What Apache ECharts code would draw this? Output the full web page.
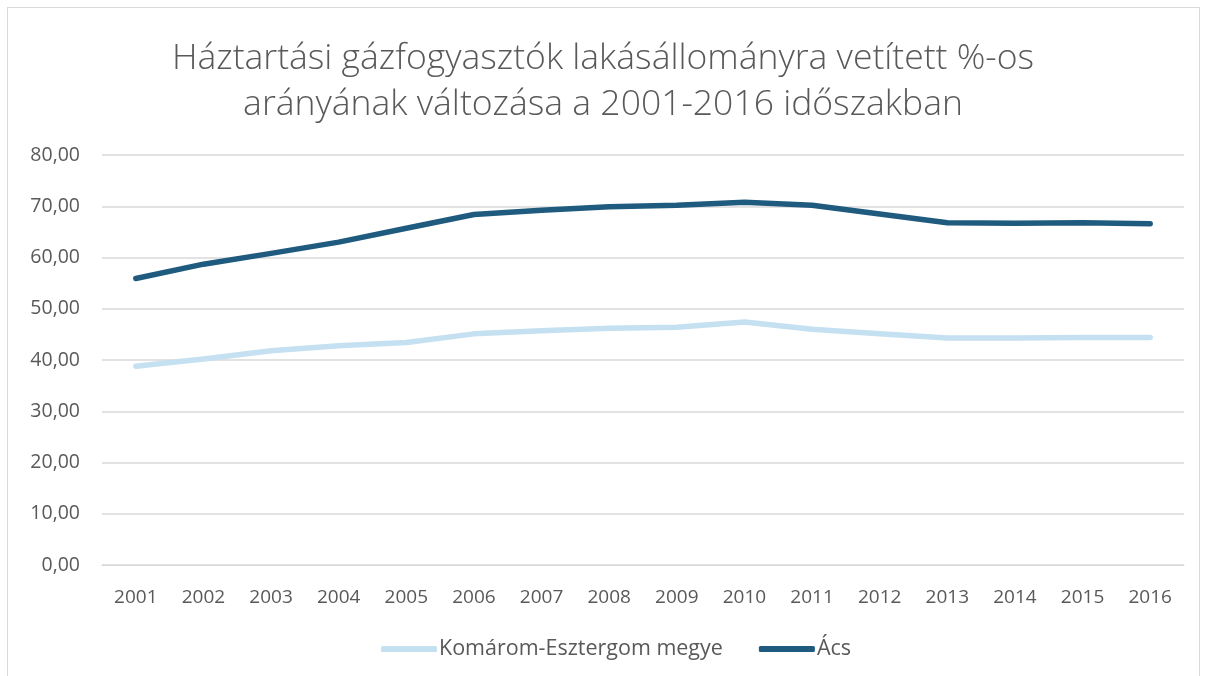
<!DOCTYPE html>
<html>
<head>
<meta charset="utf-8">
<script src="https://cdn.jsdelivr.net/npm/echarts@6/dist/echarts.min.js"></script>
<style>
  html, body { margin: 0; padding: 0; background: #fff; }
  #frame { position: absolute; left: 7px; top: 7px; width: 1193px; height: 680px; border: 1px solid #d9d9d9; box-sizing: border-box; }
  #chart { position: absolute; left: 0; top: 0; width: 1206px; height: 676px; }
</style>
</head>
<body>
<div id="frame"></div>
<div id="chart"></div>
<script>
// Years on the category axis
const years = ['2001','2002','2003','2004','2005','2006','2007','2008','2009','2010','2011','2012','2013','2014','2015','2016'];
// Share of household gas consumers relative to dwelling stock (%)
const komaromEsztergom = [38.8, 40.2, 41.8, 42.8, 43.4, 45.1, 45.7, 46.2, 46.4, 47.4, 46.0, 45.1, 44.3, 44.3, 44.4, 44.4];
const acs = [55.9, 58.7, 60.8, 63.0, 65.7, 68.4, 69.2, 69.9, 70.2, 70.8, 70.2, 68.5, 66.8, 66.7, 66.8, 66.6];
const seriesNames = ['Komárom-Esztergom megye', 'Ács'];
const titleLines = ['Háztartási gázfogyasztók lakásállományra vetített %-os', 'arányának változása a 2001-2016 időszakban'];

const textColor = '#595959';
const font = '"Open Sans", Lato, sans-serif';

const chart = echarts.init(document.getElementById('chart'), null, { renderer: 'canvas' });
chart.setOption({
  backgroundColor: 'transparent',
  animation: false,
  title: {
    text: titleLines.join('\n'),
    left: 'center',
    top: 31,
    textStyle: { color: textColor, fontFamily: font, fontWeight: 300, fontSize: 35.5, lineHeight: 46 }
  },
  legend: {
    bottom: 11,
    left: 376,
    itemWidth: 56,
    itemHeight: 6,
    itemGap: 36,
    icon: 'roundRect',
    textStyle: { color: textColor, fontFamily: font, fontSize: 21.5, padding: [0, 0, 0, -3] },
    data: seriesNames
  },
  grid: { left: 102, right: 22, top: 155, bottom: 111 },
  xAxis: {
    type: 'category',
    data: years,
    boundaryGap: true,
    axisLine: { lineStyle: { color: '#d9d9d9', width: 1 } },
    axisTick: { show: false },
    axisLabel: { color: textColor, fontFamily: font, fontSize: 19, margin: 23 }
  },
  yAxis: {
    type: 'value',
    min: 0,
    max: 80,
    interval: 10,
    axisLine: { show: false },
    axisTick: { show: false },
    splitLine: { lineStyle: { color: '#d9d9d9', width: 1.5 } },
    axisLabel: {
      color: textColor, fontFamily: font, fontSize: 19.5, margin: 22,
      formatter: v => v.toFixed(2).replace('.', ',')
    }
  },
  series: [
    {
      name: seriesNames[0], type: 'line', data: komaromEsztergom,
      symbol: 'none', smooth: false,
      lineStyle: { color: '#c5e1f1', width: 5.5, cap: 'round', join: 'round' },
      itemStyle: { color: '#c5e1f1' }
    },
    {
      name: seriesNames[1], type: 'line', data: acs,
      symbol: 'none', smooth: false,
      lineStyle: { color: '#1f5b7e', width: 5.5, cap: 'round', join: 'round' },
      itemStyle: { color: '#1f5b7e' }
    }
  ]
});
</script>
</body>
</html>
